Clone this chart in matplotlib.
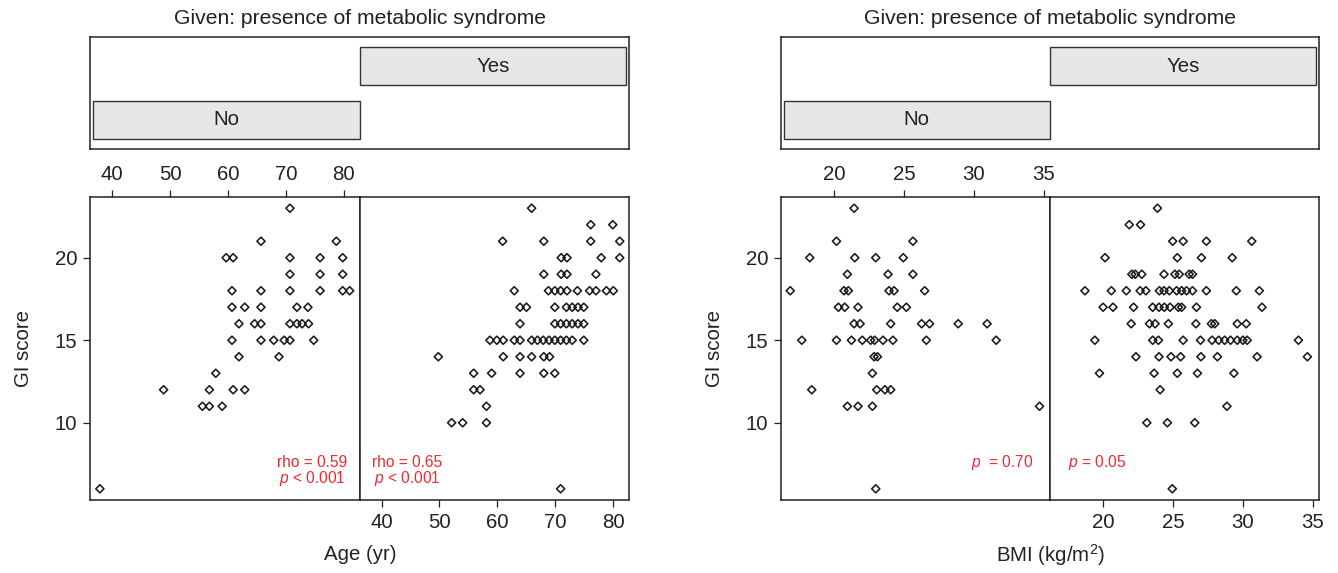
import matplotlib
matplotlib.use("Agg")
import matplotlib.pyplot as plt
from matplotlib.patches import Rectangle

plt.rcParams['font.family'] = ['Liberation Sans', 'DejaVu Sans']
plt.rcParams['mathtext.fontset'] = 'custom'
plt.rcParams['mathtext.rm'] = 'Liberation Sans'
plt.rcParams['mathtext.it'] = 'Liberation Sans:italic'

# ---------------- data ----------------
given_levels = ["No", "Yes"]
given_title = "Given: presence of metabolic syndrome"

age_no_x = [70.7,
            65.7, 78.7,
            59.7, 60.9, 70.7, 75.9, 79.8,
            70.7, 75.9, 79.8,
            60.7, 65.7, 70.7, 75.9, 79.8, 81.0,
            60.7, 62.9, 65.7, 71.9, 73.8,
            61.9, 64.6, 65.7, 70.7, 71.9, 72.8, 73.9,
            60.7, 65.7, 67.9, 69.7, 70.7, 74.8,
            61.9, 68.8,
            57.9,
            48.9, 56.8, 60.9, 62.9,
            55.6, 56.8, 59.0,
            37.9]
age_no_y = [23,
            21, 21,
            20, 20, 20, 20, 20,
            19, 19, 19,
            18, 18, 18, 18, 18, 18,
            17, 17, 17, 17, 17,
            16, 16, 16, 16, 16, 16, 16,
            15, 15, 15, 15, 15, 15,
            14, 14,
            13,
            12, 12, 12, 12,
            11, 11, 11,
            6]

age_yes_x = [65.9,
             76.1, 79.9,
             60.9, 68.0, 76.1, 81.1,
             71.0, 72.0, 77.9, 81.1,
             68.0, 71.0, 72.0, 77.0,
             62.9, 68.8, 69.9, 70.9, 72.0, 73.8, 75.9, 77.0, 78.8, 80.0,
             63.9, 65.0, 69.9, 71.9, 72.9, 73.9, 74.9,
             63.9, 69.9, 70.9, 71.9, 72.9, 73.9, 74.9,
             58.7, 59.9, 61.0, 62.9, 63.9, 65.9, 66.9, 67.9, 68.9, 69.9, 70.9, 71.9, 72.9, 74.9,
             49.8, 61.0, 63.9, 65.9, 68.0, 69.0,
             55.9, 59.0, 63.9, 68.0, 69.9,
             55.9, 57.0,
             58.1,
             52.1, 54.0, 58.1,
             70.9]
age_yes_y = [23,
             22, 22,
             21, 21, 21, 21,
             20, 20, 20, 20,
             19, 19, 19, 19,
             18, 18, 18, 18, 18, 18, 18, 18, 18, 18,
             17, 17, 17, 17, 17, 17, 17,
             16, 16, 16, 16, 16, 16, 16,
             15, 15, 15, 15, 15, 15, 15, 15, 15, 15, 15, 15, 15, 15,
             14, 14, 14, 14, 14, 14,
             13, 13, 13, 13, 13,
             12, 12,
             11,
             10, 10, 10,
             6]

bmi_no_x = [21.43,
            20.17, 25.64,
            18.26, 21.48, 22.98, 24.95,
            20.95, 23.86, 25.64,
            16.86, 20.71, 21.02, 23.93, 24.29, 26.48,
            20.31, 20.76, 21.71, 24.52, 25.17,
            21.43, 21.86, 24.05, 26.26, 26.83, 28.88, 30.95,
            17.69, 20.17, 21.24, 22.02, 22.62, 22.90, 23.50, 24.21, 26.60, 31.60,
            22.86, 23.10,
            22.74,
            18.40, 23.05, 23.64, 24.05,
            20.95, 21.71, 22.74, 34.70,
            22.98]
bmi_no_y = [23,
            21, 21,
            20, 20, 20, 20,
            19, 19, 19,
            18, 18, 18, 18, 18, 18,
            17, 17, 17, 17, 17,
            16, 16, 16, 16, 16, 16, 16,
            15, 15, 15, 15, 15, 15, 15, 15, 15, 15,
            14, 14,
            13,
            12, 12, 12, 12,
            11, 11, 11, 11,
            6]

bmi_yes_x = [23.89,
             21.87, 22.68,
             24.98, 25.73, 27.39, 30.64,
             20.14, 25.31, 27.04, 29.24,
             22.06, 22.30, 22.77, 24.36, 25.14, 25.45, 26.16, 26.40,
             18.70, 20.59, 21.66, 22.65, 23.06, 24.03, 24.36, 24.74, 25.26, 25.62, 25.97, 26.40, 27.39, 29.53, 31.18,
             20.00, 20.71, 22.18, 23.55, 24.00, 24.38, 24.79, 25.38, 25.62, 26.68, 31.37,
             22.01, 23.32, 23.72, 24.67, 26.64, 27.75, 27.99, 29.60, 30.24,
             19.41, 23.55, 23.96, 25.73, 26.97, 27.80, 28.27, 28.70, 29.12, 29.60, 30.00, 30.31, 33.98,
             22.35, 24.00, 24.86, 25.55, 27.00, 28.18, 31.02, 34.62,
             19.74, 23.65, 25.31, 26.75, 29.36,
             24.08,
             28.86,
             23.13, 24.60, 26.56,
             24.95]
bmi_yes_y = [23,
             22, 22,
             21, 21, 21, 21,
             20, 20, 20, 20,
             19, 19, 19, 19, 19, 19, 19, 19,
             18, 18, 18, 18, 18, 18, 18, 18, 18, 18, 18, 18, 18, 18, 18,
             17, 17, 17, 17, 17, 17, 17, 17, 17, 17, 17,
             16, 16, 16, 16, 16, 16, 16, 16, 16,
             15, 15, 15, 15, 15, 15, 15, 15, 15, 15, 15, 15, 15,
             14, 14, 14, 14, 14, 14, 14, 14,
             13, 13, 13, 13, 13,
             12,
             11,
             10, 10, 10,
             6]

age_ticks = [40, 50, 60, 70, 80]
bmi_ticks = [20, 25, 30, 35]
gi_ticks = [10, 15, 20]

age_notes = ["rho = 0.59\n$p$ < 0.001", "rho = 0.65\n$p$ < 0.001"]
bmi_notes = ["$p$  = 0.70", "$p$ = 0.05"]

# ---------------- layout ----------------
W, H = 1338, 573
fig = plt.figure(figsize=(W / 100, H / 100), dpi=100)

FRAME = '#222222'
TXT = '#222222'
RED = '#ee2a35'
FS = 14.7


def ax_px(x0, y0, x1, y1):
    return fig.add_axes([x0 / W, 1 - y1 / H, (x1 - x0) / W, (y1 - y0) / H])


def style_frame(ax):
    for s in ax.spines.values():
        s.set_color(FRAME)
        s.set_linewidth(1.1)


def given_panel(x0, x1):
    ax = ax_px(x0, 37, x1, 149)
    style_frame(ax)
    ax.set_xlim(0.49, 2.51)
    ax.set_ylim(0.452, 2.548)
    for i, lab in enumerate(given_levels):
        lvl = i + 1
        ax.add_patch(Rectangle((lvl - 0.5, lvl - 0.355), 1.0, 0.71,
                               facecolor='#e6e7e8', edgecolor='#333333', lw=1.0))
        ax.text(lvl, lvl, lab, ha='center', va='center', fontsize=FS, color=TXT)
    ax.set_xticks([])
    ax.set_yticks([])
    fig.text((x0 + x1) / 2 / W, 1 - 18 / H, given_title, ha='center', va='center',
             fontsize=15.2, color=TXT)


def scatter_panel(x0, x1, xs, ys, xlim, xticks, top, left, note, note_x, note_y):
    ax = ax_px(x0, 197, x1, 500)
    style_frame(ax)
    ax.scatter(xs, ys, marker='D', s=17, facecolors='none', edgecolors='#1a1a1a',
               linewidths=1.15, zorder=3)
    ax.set_xlim(*xlim)
    ax.set_ylim(5.32, 23.68)
    ax.set_xticks(xticks)
    ax.set_yticks(gi_ticks if left else [])
    ax.tick_params(direction='out', length=5, width=0.9, color=FRAME,
                   labelsize=FS, labelcolor=TXT, pad=4)
    if top:
        ax.tick_params(axis='x', top=True, bottom=False, labeltop=True, labelbottom=False)
    else:
        ax.tick_params(axis='x', top=False, bottom=True, labeltop=False, labelbottom=True)
    if not left:
        ax.tick_params(axis='y', left=False, labelleft=False)
    ax.text(note_x, note_y, note, ha='center', va='center', fontsize=11.2, color=RED,
            linespacing=0.98)
    return ax


# left block: Age
given_panel(90, 629)
a1 = scatter_panel(90, 359.5, age_no_x, age_no_y, (36.2, 82.7), age_ticks, True, True,
                   age_notes[0], 74.6, 7.05)
a2 = scatter_panel(359.5, 629, age_yes_x, age_yes_y, (36.2, 82.7), age_ticks, False, False,
                   age_notes[1], 44.4, 7.05)
a1.set_ylabel("GI score", fontsize=FS, color=TXT, labelpad=16)
fig.text(360 / W, 1 - 555 / H, "Age (yr)", ha='center', va='center', fontsize=FS,
         color=TXT)

# right block: BMI
given_panel(781, 1319)
b1 = scatter_panel(781, 1050, bmi_no_x, bmi_no_y, (16.2, 35.45), bmi_ticks, True, True,
                   bmi_notes[0], 32.05, 7.6)
b2 = scatter_panel(1050, 1319, bmi_yes_x, bmi_yes_y, (16.2, 35.45), bmi_ticks, False, False,
                   bmi_notes[1], 19.55, 7.6)
b1.set_ylabel("GI score", fontsize=FS, color=TXT, labelpad=16)
fig.text(1050 / W, 1 - 555 / H, "BMI (kg/m$^2$)", ha='center', va='center', fontsize=FS,
         color=TXT)

fig.savefig("out.png", dpi=100, facecolor='white')
